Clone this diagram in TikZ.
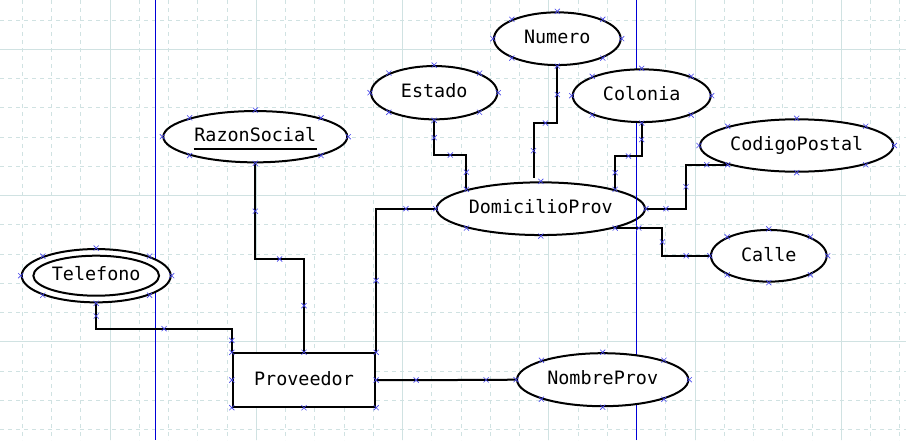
\documentclass[tikz,border=0pt]{standalone}
\usepackage{fontspec}
\setmainfont{DejaVu Sans Mono}
\usetikzlibrary{shapes.geometric,shapes.misc}
\definecolor{gridc}{RGB}{208,226,226}
\definecolor{guideblue}{RGB}{0,0,215}
\definecolor{mkblue}{RGB}{70,70,235}
\begin{document}
\begin{tikzpicture}[x=1pt,y=-1pt,
  lbl/.style={font=\fontsize{18.4}{20}\selectfont,text height=10.4pt,text depth=0pt,inner sep=0pt},
  attr/.style={ellipse,draw,line width=2pt,fill=white,lbl},
  entity/.style={rectangle,draw,line width=2pt,fill=white,lbl},
  conn/.style={draw,line width=2pt},
  mk/.style={cross out,draw=mkblue,line width=0.6pt,minimum size=4.5pt,inner sep=0pt},
  gridminor/.style={draw=gridc,line width=0.8pt,dash pattern=on 4pt off 4pt},
  gridmajor/.style={draw=gridc,line width=1pt},
  guide/.style={draw=guideblue,line width=1.2pt}]
\useasboundingbox (0,0) rectangle (906,440);
\fill[white] (0,0) rectangle (906,440);
% grid
\foreach \k in {-3,...,27} \draw[gridminor] (110+\k*29.25,0) -- (110+\k*29.25,440);
\foreach \k in {-1,...,13} \draw[gridminor] (0,49.3+\k*29.25) -- (906,49.3+\k*29.25);
\foreach \k in {0,...,5} \draw[gridmajor] (110+\k*146.25,0) -- (110+\k*146.25,440);
\foreach \k in {0,...,2} \draw[gridmajor] (0,49.3+\k*146.2) -- (906,49.3+\k*146.2);
% node under the guide
\node[attr,minimum width=208.3pt,minimum height=52.7pt] (Dom) at (540.8,208.7) {DomicilioProv};
% guides
\draw[guide] (155.3,0) -- (155.3,440);
\draw[guide] (636.5,0) -- (636.5,440);
% nodes
\node[entity,minimum width=142.3pt,minimum height=53.4pt] (Prov) at (304,380) {Proveedor};
\node[attr,minimum width=171.3pt,minimum height=53pt] (Nombre) at (602.7,379.7) {NombreProv};
\node[attr,minimum width=184pt,minimum height=51.3pt] (Razon) at (255.3,136.7) {RazonSocial};
\node[attr,minimum width=149pt,minimum height=53.3pt] (Tel) at (96.2,275.7) {};
\node[attr,minimum width=125.7pt,minimum height=40pt] (TelIn) at (Tel.center) {Telefono};
\node[attr,minimum width=126.7pt,minimum height=52.7pt] (Num) at (557.3,38.7) {Numero};
\node[attr,minimum width=126.3pt,minimum height=53.3pt] (Est) at (434.2,92.7) {Estado};
\node[attr,minimum width=138pt,minimum height=52.7pt] (Col) at (641.7,95.7) {Colonia};
\node[attr,minimum width=193.3pt,minimum height=52.4pt] (CP) at (796.7,145.5) {CodigoPostal};
\node[attr,minimum width=115.7pt,minimum height=51.7pt] (Calle) at (768.8,255.8) {Calle};
\coordinate (numEnd) at (533.5,178.3);
% underline of the key attribute
\draw[line width=2pt] (193.5,149) -- (316.5,149);
% connectors
\draw[conn] (Tel.south) -- node[mk]{} ++(0,25.3) -| node[mk,pos=.25]{} node[mk,pos=.75]{} (Prov.north west);
\draw[conn] (Prov.north) -- node[mk]{} ++(0,-93.3) -| node[mk,pos=.25]{} node[mk,pos=.75]{} (Razon.south);
\draw[conn] (Prov.north east) |- node[mk,pos=.25]{} node[mk,pos=.75]{} (Dom.west);
\draw[conn] (Prov.east) -- node[mk]{} ++(80,0) -- node[mk]{} (Nombre.west);
\draw[conn] (Num.south) -- node[mk]{} ++(0,57) -| node[mk,pos=.25]{} node[mk,pos=.75]{} (numEnd);
\draw[conn] (Est.south) -- node[mk]{} ++(0,34.65) -| node[mk,pos=.25]{} node[mk,pos=.75]{} (Dom.north west);
\draw[conn] (Col.south) -- node[mk]{} ++(0,33) -| node[mk,pos=.25]{} node[mk,pos=.75]{} (Dom.north east);
\draw[conn] (Dom.east) -- node[mk]{} ++(40,0) |- node[mk,pos=.25]{} node[mk,pos=.75]{} (CP.south west);
\draw[conn] (Dom.south east) -- node[mk]{} ++(47.3,0) |- node[mk,pos=.25]{} node[mk,pos=.75]{} (Calle.west);
% anchor markers
\foreach \n in {Dom,Prov,Nombre,Razon,Tel,Num,Est,Col,CP,Calle}
  \foreach \a in {north,north east,east,south east,south,south west,west,north west}
    \node[mk] at (\n.\a) {};
\end{tikzpicture}
\end{document}
